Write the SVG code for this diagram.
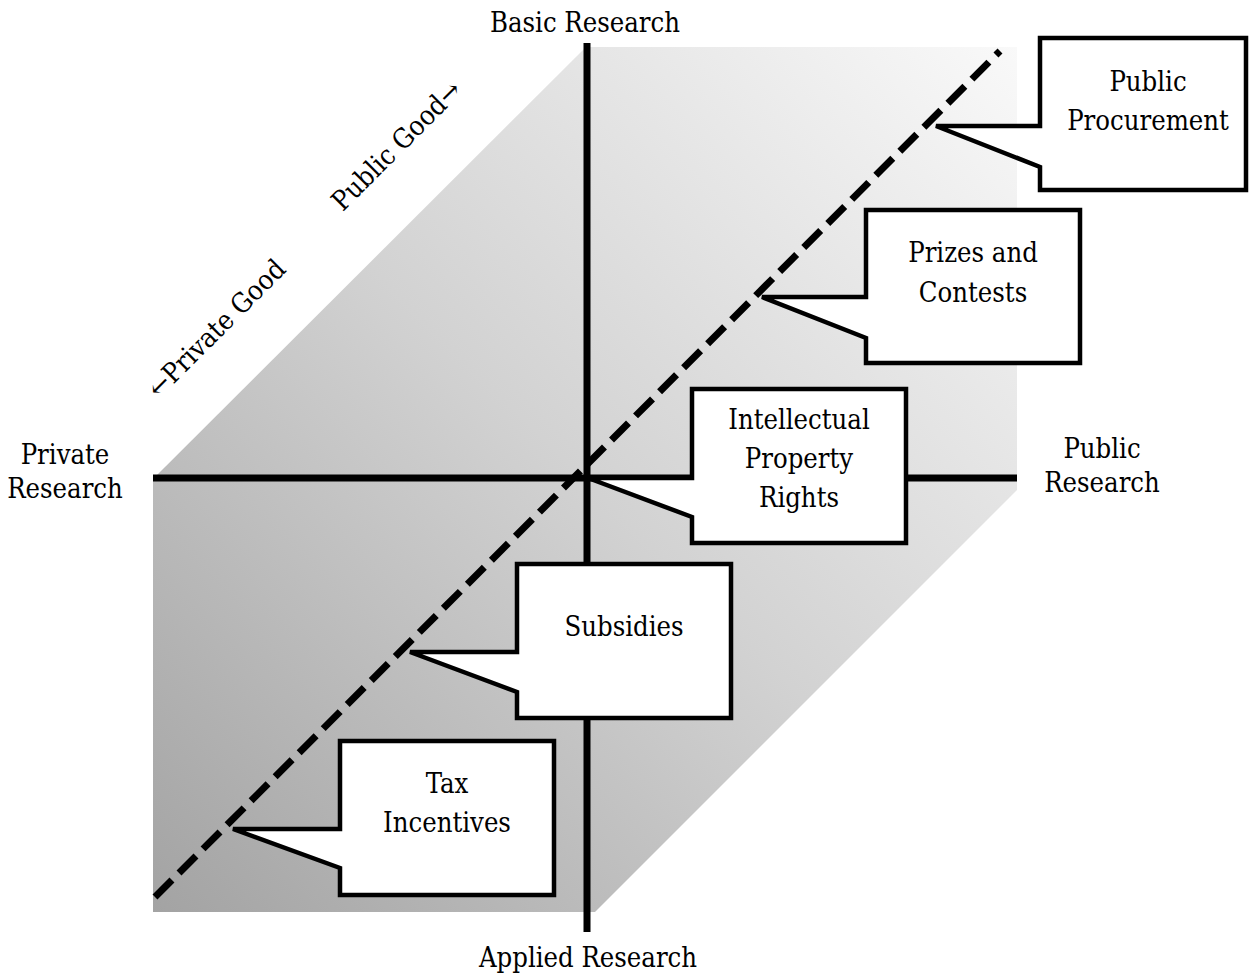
<svg xmlns="http://www.w3.org/2000/svg" width="1249" height="978" viewBox="0 0 1249 978">
<defs>
<linearGradient id="bg" gradientUnits="userSpaceOnUse" x1="153" y1="912" x2="1017" y2="47">
<stop offset="0" stop-color="#a3a3a3"/>
<stop offset="0.5" stop-color="#d2d2d2"/>
<stop offset="1" stop-color="#f9f9f9"/>
</linearGradient>
</defs>
<style>
text{font-family:"DejaVu Serif Condensed","DejaVu Serif","Liberation Serif",serif;font-stretch:condensed;font-size:27.2px;fill:#000;text-anchor:middle}
.axis{stroke:#000;stroke-width:7;fill:none}
.dash{stroke:#000;stroke-width:7;fill:none;stroke-dasharray:24 10}
.callout{fill:#fff;stroke:#000;stroke-width:4.5;stroke-linejoin:miter}
</style>
<rect width="1249" height="978" fill="#fff"/>
<polygon id="background" points="153,479 586,47 1017,47 1017,490 595,912 153,912" fill="url(#bg)"/>
<g id="connectors">
<line class="axis" x1="153" y1="478" x2="1017" y2="478"/>
<line class="axis" x1="587" y1="43" x2="587" y2="932"/>
<line class="dash" x1="155" y1="897" x2="1000" y2="51"/>
</g>
<g id="axis-labels">
<text x="585" y="32">Basic Research</text>
<text x="588" y="967">Applied Research</text>
<text x="65" y="464">Private</text>
<text x="65" y="498">Research</text>
<text x="1102" y="458">Public</text>
<text x="1102" y="492">Research</text>
<text transform="translate(223,335) rotate(-45)">←Private Good</text>
<text transform="translate(403,152) rotate(-45)">Public Good→</text>
</g>
<g id="public-procurement">
<path class="callout" d="M1040,38 H1246 V190 H1040 V167 L936,126 H1040 Z"/>
<text x="1148" y="91">Public</text>
<text x="1148" y="130">Procurement</text>
</g>
<g id="prizes-contests">
<path class="callout" d="M866,210 H1080 V363 H866 V338 L762,297 H866 Z"/>
<text x="973" y="262">Prizes and</text>
<text x="973" y="302">Contests</text>
</g>
<g id="ipr">
<path class="callout" d="M692,389 H906 V543 H692 V517 L588,478 H692 Z"/>
<text x="799" y="429">Intellectual</text>
<text x="799" y="468">Property</text>
<text x="799" y="507">Rights</text>
</g>
<g id="subsidies">
<path class="callout" d="M517,564 H731 V718 H517 V692 L410,652 H517 Z"/>
<text x="624" y="636">Subsidies</text>
</g>
<g id="tax-incentives">
<path class="callout" d="M340,741 H554 V895 H340 V868 L233,829 H340 Z"/>
<text x="447" y="793">Tax</text>
<text x="447" y="832">Incentives</text>
</g>
</svg>
